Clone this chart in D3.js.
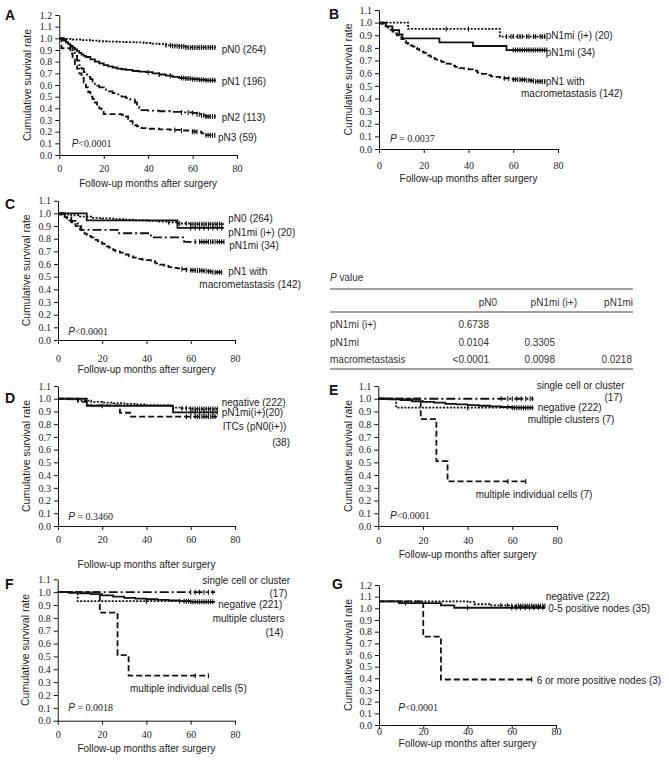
<!DOCTYPE html>
<html><head><meta charset="utf-8">
<script src="https://cdn.jsdelivr.net/npm/d3@7"></script>
<style>body{margin:0;background:#fff} svg{display:block}</style>
</head><body>
<svg id="c" width="669" height="763"></svg>
<script>
// ---------------- DATA ----------------
const xTicks = [0, 20, 40, 60, 80];
const yTicks12 = [0, 0.1, 0.2, 0.3, 0.4, 0.5, 0.6, 0.7, 0.8, 0.9, 1.0, 1.1, 1.2];
const yTicks11 = [0, 0.1, 0.2, 0.3, 0.4, 0.5, 0.6, 0.7, 0.8, 0.9, 1.0, 1.1];

// Panel A
const A_names = ["pN0 (264)", "pN1 (196)", "pN2 (113)", "pN3 (59)"];
const A_pN0 = [[0,1],[3,0.995],[6,0.99],[10,0.985],[14,0.98],[18,0.975],[22,0.972],[26,0.97],[30,0.968],[34,0.965],[38,0.96],[42,0.955],[45,0.95],[48,0.94],[51,0.935],[54,0.93],[57,0.922],[70.5,0.922]];
const A_pN1 = [[0,1],[1,0.99],[2,0.98],[3,0.965],[4,0.95],[5,0.935],[6,0.92],[7,0.905],[8,0.89],[9,0.875],[10,0.86],[11,0.85],[12,0.84],[14,0.82],[16,0.80],[18,0.785],[20,0.77],[22,0.76],[24,0.75],[26,0.74],[28,0.735],[30,0.73],[33,0.72],[36,0.715],[39,0.71],[42,0.70],[45,0.69],[48,0.68],[51,0.67],[54,0.66],[57,0.655],[60,0.65],[63,0.645],[66,0.64],[70.5,0.64]];
const A_pN2 = [[0,1],[2,0.99],[3,0.98],[4,0.96],[5,0.93],[6,0.89],[7,0.85],[8,0.81],[9,0.77],[10,0.74],[11,0.71],[12,0.69],[13,0.67],[14,0.65],[15,0.63],[16,0.61],[17,0.595],[18,0.58],[20,0.56],[22,0.545],[24,0.53],[26,0.52],[28,0.50],[30,0.49],[32,0.475],[34,0.45],[35,0.42],[36,0.40],[37,0.385],[40,0.38],[45,0.375],[50,0.37],[55,0.365],[60,0.36],[62,0.35],[64,0.34],[66,0.33],[70.5,0.33]];
const A_pN3 = [[0,1],[1,0.915],[5,0.87],[6,0.82],[7,0.78],[8,0.74],[9,0.70],[10,0.66],[11,0.62],[12,0.58],[13,0.54],[14,0.50],[15,0.48],[16,0.45],[17,0.42],[18,0.40],[19,0.37],[20,0.35],[24,0.35],[28,0.345],[30,0.33],[31,0.31],[32,0.29],[33,0.27],[34,0.255],[35,0.245],[36,0.235],[37,0.23],[40,0.225],[45,0.22],[50,0.215],[55,0.21],[60,0.20],[64,0.185],[66,0.17],[70,0.17]];
const A_pN0_cens = [48,50,51,52,53,54,55,56,57,58,59,60,61,62,63,64,65,66,67,68,69,70];
const A_pN1_cens = [40,45,50,55,56,57,58,59,60,61,62,63,64,65,66,67,68,69,70];
const A_pN2_cens = [55,58,60,62,63,64,65,66,67,68,69,70];
const A_pN3_cens = [52,55,60,61,62,66,67,68,69,70];
const A_p = "<0.0001";

// Panel B
const B_names = ["pN1mi (i+) (20)", "pN1mi (34)", "pN1 with", "macrometastasis (142)"];
const B_pN1mii = [[0,1],[13,0.95],[54,0.89],[74.5,0.89]];
const B_pN1mi = [[0,1],[3,0.97],[6,0.94],[9,0.906],[10.5,0.876],[27,0.844],[42,0.815],[57,0.783],[75,0.783]];
const B_macro = [[0,1],[1,0.99],[2,0.98],[3,0.97],[4,0.96],[5,0.945],[6,0.93],[7,0.915],[8,0.90],[9,0.885],[10,0.87],[11,0.855],[12,0.84],[13,0.83],[14,0.82],[15,0.81],[16,0.80],[17,0.79],[18,0.78],[19,0.77],[20,0.76],[21,0.75],[22,0.74],[23,0.73],[24,0.72],[25,0.71],[26,0.70],[28,0.69],[30,0.675],[32,0.66],[34,0.65],[36,0.64],[38,0.635],[40,0.63],[42,0.62],[44,0.605],[46,0.595],[48,0.585],[50,0.575],[52,0.57],[54,0.565],[56,0.56],[58,0.555],[60,0.55],[63,0.548],[66,0.545],[68,0.54],[70,0.535],[74.5,0.535]];
const B_pN1mii_cens = [30,40,57,59,60,62,63,64,66,67,69,70,72,73,74];
const B_pN1mi_cens = [60,61,62,63,64,65,66,67,68,69,70,71,72,73,74,75];
const B_macro_cens = [56,58,60,61,62,63,64,65,66,67,68,69,70,71,72,73,74];
const B_p = "0.0037";

// Panel C
const C_names = ["pN0 (264)", "pN1mi (i+) (20)", "pN1mi (34)", "pN1 with", "macrometastasis (142)"];
const C_pN0 = [[0,1],[3,0.99],[6,0.985],[10,0.975],[15,0.965],[20,0.96],[25,0.955],[30,0.95],[35,0.945],[40,0.94],[45,0.935],[50,0.93],[54,0.92],[60,0.915],[75,0.915]];
const C_pN1mii = [[0,1],[13,0.945],[54,0.885],[75,0.885]];
const C_pN1mi = [[0,1],[3,0.97],[6,0.94],[9,0.90],[10.5,0.87],[27,0.843],[42,0.81],[57,0.775],[75,0.775]];
const C_macro = B_macro;
const C_pN0_cens = [50,55,58,60,61,62,63,64,65,66,67,68,69,70,71,72,73,74];
const C_pN1mii_cens = [60,62,64,66,68,70,72,74];
const C_pN1mi_cens = [62,64,65,66,67,68,69,70,71,72,73,74,75];
const C_macro_cens = B_macro_cens;
const C_p = "<0.0001";

// Table
const tableTitle = "value";
const tableCols = ["pN0", "pN1mi (i+)", "pN1mi"];
const tableRows = ["pN1mi (i+)", "pN1mi", "macrometastasis"];
const tableVals = [["0.6738", "", ""], ["0.0104", "0.3305", ""], ["<0.0001", "0.0098", "0.0218"]];

// Panel D
const D_names = ["negative (222)", "pN1mi(i+)(20)", "ITCs (pN0(i+))", "(38)"];
const D_neg = [[0,1],[5,0.995],[10,0.985],[15,0.975],[20,0.97],[25,0.965],[30,0.96],[35,0.955],[40,0.95],[45,0.948],[50,0.945],[52,0.93],[56,0.925],[60,0.92],[72,0.92]];
const D_pN1mii = [[0,1],[13,0.945],[52,0.893],[72,0.893]];
const D_itc = [[0,1],[9,0.975],[13,0.947],[28,0.89],[33,0.86],[72,0.86]];
const D_neg_cens = [56,58,60,61,62,63,64,65,66,67,68,69,70,71,72];
const D_pN1mii_cens = [20,60,62,64,66,68,70,72];
const D_itc_cens = [58,60,62,63,64,65,66,67,68,69,70,71];
const D_p = "0.3460";

// Panel E
const E_names = ["single cell or cluster", "(17)", "negative (222)", "multiple clusters (7)", "multiple individual cells (7)"];
const E_single = [[0,1],[69.5,1]];
const E_neg = [[0,1],[5,0.995],[10,0.99],[15,0.98],[20,0.975],[25,0.97],[30,0.96],[35,0.955],[40,0.95],[45,0.945],[50,0.94],[55,0.935],[60,0.93],[69.5,0.93]];
const E_clus = [[0,1],[8,0.93],[60,0.93]];
const E_cells = [[0,1],[19,0.84],[26,0.51],[31,0.35],[66,0.35]];
const E_single_cens = [55,58,60,62,64,66,68,69];
const E_neg_cens = [58,60,61,62,63,64,65,66,67,68,69];
const E_clus_cens = [40];
const E_cells_cens = [58,66];
const E_p = "<0.0001";

// Panel F
const F_names = ["single cell or cluster", "(17)", "negative (221)", "multiple clusters", "(14)", "multiple individual cells (5)"];
const F_single = [[0,1],[71,1]];
const F_neg = [[0,1],[5,0.995],[10,0.99],[15,0.985],[20,0.975],[25,0.965],[30,0.955],[35,0.95],[40,0.945],[45,0.94],[50,0.935],[55,0.93],[60,0.925],[71,0.925]];
const F_clus = [[0,1],[9,0.93],[60,0.93]];
const F_cells = [[0,1],[19,0.84],[27,0.51],[32,0.35],[68,0.35]];
const F_single_cens = [60,62,64,66,68,70];
const F_neg_cens = [55,57,58,59,60,61,62,63,64,65,66,67,68,69,70];
const F_clus_cens = [40];
const F_cells_cens = [62,68];
const F_p = "0.0018";

// Panel G
const G_names = ["negative (222)", "0-5 positive nodes (35)", "6 or more positive nodes (3)"];
const G_neg = [[0,1.06],[40,1.055],[43,1.035],[50,1.025],[60,1.02],[75,1.02]];
const G_pos05 = [[0,1.06],[9,1.045],[28,1.025],[34,1.005],[75,1.005]];
const G_pos6 = [[0,1.06],[20,0.757],[28,0.39],[69,0.39]];
const G_neg_cens = [55,58,60,62,63,64,65,66,67,68,69,70,71,72,73,74,75];
const G_pos05_cens = [12,40,60,62,64,66,68,70,72,74];
const G_pos6_cens = [69];
const G_p = "<0.0001";

// ---------------- DRAWING ----------------
const svg = d3.select("#c");
const SANS = "'Liberation Sans', Arial, sans-serif";
const SERIF = "'Liberation Serif', 'Times New Roman', serif";
const DASH = { solid: null, dotted: "2,1.5", dashdot: "9,3,2,3", dashed: "6,3" };

function stepVal(series, t) {
  let v = series[0][1];
  for (const p of series) { if (p[0] <= t) v = p[1]; }
  return v;
}

function panel(cfg) {
  const x = d3.scaleLinear().domain([0, 80]).range([cfg.x0, cfg.x1]);
  const y = d3.scaleLinear().domain([0, cfg.ymax]).range([cfg.y0, cfg.yTop]);
  const g = svg.append("g");

  const ya = g.append("g").attr("transform", `translate(${cfg.x0},0)`)
    .call(d3.axisLeft(y).tickValues(cfg.yTicks).tickFormat(d3.format(".1f")).tickSize(4).tickSizeOuter(0).tickPadding(3));
  const xa = g.append("g").attr("transform", `translate(0,${cfg.y0})`)
    .call(d3.axisBottom(x).tickValues(xTicks).tickFormat(d3.format("d")).tickSize(4).tickSizeOuter(0));
  [ya, xa].forEach(a => {
    a.attr("font-family", SERIF).attr("font-size", 10);
    a.selectAll("path,line").attr("stroke", "#111").attr("stroke-width", 1);
    a.selectAll("text").attr("fill", "#222");
  });
  xa.selectAll("text").attr("dy", null).attr("y", cfg.xtb - cfg.y0);

  // axis titles
  g.append("text").attr("x", (cfg.x0 + cfg.x1) / 2).attr("y", cfg.titleY)
    .attr("text-anchor", "middle").attr("font-family", SANS).attr("font-size", 10).attr("fill", "#222")
    .text("Follow-up months after surgery");
  g.append("text").attr("transform", `translate(${cfg.ytX},${(cfg.y0 + cfg.yTop) / 2}) rotate(-90)`)
    .attr("text-anchor", "middle").attr("dy", "0.35em").attr("font-family", SANS).attr("font-size", 10.5).attr("fill", "#222")
    .text("Cumulative survival rate");

  // panel letter
  g.append("text").attr("x", cfg.letterX).attr("y", cfg.letterY).attr("font-family", SANS)
    .attr("font-weight", "bold").attr("font-size", 14).attr("fill", "#111").text(cfg.letter);

  // curves
  const line = d3.line().x(d => x(d[0])).y(d => y(d[1])).curve(d3.curveStepAfter);
  cfg.series.forEach(s => {
    g.append("path").attr("d", line(s.data)).attr("fill", "none").attr("stroke", "#111")
      .attr("stroke-width", 1.8).attr("stroke-dasharray", DASH[s.style]);
    g.selectAll(null).data(s.cens).enter().append("line")
      .attr("x1", t => x(t)).attr("x2", t => x(t))
      .attr("y1", t => y(stepVal(s.data, t)) - 2.5).attr("y2", t => y(stepVal(s.data, t)) + 2.5)
      .attr("stroke", "#111").attr("stroke-width", 1.1);
  });

  // labels
  cfg.labels.forEach(l => {
    g.append("text").attr("x", l.x).attr("y", l.y).attr("text-anchor", l.anchor || "start")
      .attr("font-family", SANS).attr("font-size", 10).attr("fill", "#222").text(l.t);
  });

  // p value
  const pt = g.append("text").attr("x", cfg.pX).attr("y", cfg.pY).attr("font-size", 10).attr("fill", "#222");
  pt.append("tspan").attr("font-family", SANS).attr("font-style", "italic").text("P");
  pt.append("tspan").attr("font-family", SERIF).text(cfg.pSep + cfg.p);
}

panel({ letter: "A", letterX: 5, letterY: 20, x0: 59.3, x1: 237, y0: 155, yTop: 15, ymax: 1.2, yTicks: yTicks12,
  xtb: 171.5, titleY: 187, ytX: 27,
  series: [
    { data: A_pN0, cens: A_pN0_cens, style: "dotted" },
    { data: A_pN1, cens: A_pN1_cens, style: "solid" },
    { data: A_pN2, cens: A_pN2_cens, style: "dashdot" },
    { data: A_pN3, cens: A_pN3_cens, style: "dashed" }],
  labels: [
    { t: A_names[0], x: 221.7, y: 53 }, { t: A_names[1], x: 221.7, y: 85 },
    { t: A_names[2], x: 221.7, y: 120.5 }, { t: A_names[3], x: 218, y: 140.5 }],
  pX: 71.7, pY: 147, pSep: "", p: A_p });

panel({ letter: "B", letterX: 329, letterY: 19, x0: 379, x1: 558, y0: 149, yTop: 10, ymax: 1.1, yTicks: yTicks11,
  xtb: 168.5, titleY: 182, ytX: 348.3,
  series: [
    { data: B_pN1mii, cens: B_pN1mii_cens, style: "dotted" },
    { data: B_pN1mi, cens: B_pN1mi_cens, style: "solid" },
    { data: B_macro, cens: B_macro_cens, style: "dashed" }],
  labels: [
    { t: B_names[0], x: 545.7, y: 39 }, { t: B_names[1], x: 545.7, y: 55.5 },
    { t: B_names[2], x: 545.7, y: 84.5 }, { t: B_names[3], x: 521, y: 96.5 }],
  pX: 390, pY: 141.5, pSep: " = ", p: B_p });

panel({ letter: "C", letterX: 5, letterY: 209, x0: 58, x1: 235, y0: 340, yTop: 200.7, ymax: 1.1, yTicks: yTicks11,
  xtb: 361.5, titleY: 373, ytX: 26.7,
  series: [
    { data: C_pN0, cens: C_pN0_cens, style: "dotted" },
    { data: C_pN1mii, cens: C_pN1mii_cens, style: "solid" },
    { data: C_pN1mi, cens: C_pN1mi_cens, style: "dashdot" },
    { data: C_macro, cens: C_macro_cens, style: "dashed" }],
  labels: [
    { t: C_names[0], x: 228.3, y: 222 }, { t: C_names[1], x: 228.3, y: 235.5 },
    { t: C_names[2], x: 229.3, y: 249 }, { t: C_names[3], x: 228.3, y: 275 },
    { t: C_names[4], x: 199.3, y: 288 }],
  pX: 68.3, pY: 334.5, pSep: "", p: C_p });

panel({ letter: "D", letterX: 5, letterY: 402.5, x0: 58, x1: 235, y0: 526, yTop: 386, ymax: 1.1, yTicks: yTicks11,
  xtb: 542.5, titleY: 568, ytX: 26.7,
  series: [
    { data: D_neg, cens: D_neg_cens, style: "dotted" },
    { data: D_pN1mii, cens: D_pN1mii_cens, style: "solid" },
    { data: D_itc, cens: D_itc_cens, style: "dashed" }],
  labels: [
    { t: D_names[0], x: 221.7, y: 405.5 }, { t: D_names[1], x: 221.7, y: 416 },
    { t: D_names[2], x: 222.7, y: 429.5 }, { t: D_names[3], x: 290, y: 445.5, anchor: "end" }],
  pX: 68.3, pY: 519.5, pSep: " = ", p: D_p });

panel({ letter: "E", letterX: 329, letterY: 395, x0: 378.3, x1: 557, y0: 526, yTop: 386, ymax: 1.1, yTicks: yTicks11,
  xtb: 543.5, titleY: 558, ytX: 348.3,
  series: [
    { data: E_single, cens: E_single_cens, style: "dashdot" },
    { data: E_neg, cens: E_neg_cens, style: "solid" },
    { data: E_clus, cens: E_clus_cens, style: "dotted" },
    { data: E_cells, cens: E_cells_cens, style: "dashed" }],
  labels: [
    { t: E_names[0], x: 536.7, y: 389 }, { t: E_names[1], x: 622.3, y: 401, anchor: "end" },
    { t: E_names[2], x: 537.7, y: 411 }, { t: E_names[3], x: 527.7, y: 423 },
    { t: E_names[4], x: 475.7, y: 498 }],
  pX: 390, pY: 519, pSep: "", p: E_p });

panel({ letter: "F", letterX: 5, letterY: 589, x0: 57.7, x1: 235, y0: 720.7, yTop: 579.3, ymax: 1.1, yTicks: yTicks11,
  xtb: 738.5, titleY: 752, ytX: 25,
  series: [
    { data: F_single, cens: F_single_cens, style: "dashdot" },
    { data: F_neg, cens: F_neg_cens, style: "solid" },
    { data: F_clus, cens: F_clus_cens, style: "dotted" },
    { data: F_cells, cens: F_cells_cens, style: "dashed" }],
  labels: [
    { t: F_names[0], x: 202.3, y: 584 }, { t: F_names[1], x: 287.3, y: 597, anchor: "end" },
    { t: F_names[2], x: 218.3, y: 608 }, { t: F_names[3], x: 212.7, y: 622 },
    { t: F_names[4], x: 283.3, y: 635.5, anchor: "end" }, { t: F_names[5], x: 130, y: 692 }],
  pX: 68.3, pY: 711, pSep: " = ", p: F_p });

panel({ letter: "G", letterX: 332, letterY: 589, x0: 379, x1: 556, y0: 725, yTop: 585, ymax: 1.2, yTicks: yTicks12,
  xtb: 734.5, titleY: 747, ytX: 348.3,
  series: [
    { data: G_neg, cens: G_neg_cens, style: "dotted" },
    { data: G_pos05, cens: G_pos05_cens, style: "solid" },
    { data: G_pos6, cens: G_pos6_cens, style: "dashed" }],
  labels: [
    { t: G_names[0], x: 545.7, y: 600 }, { t: G_names[1], x: 548.3, y: 611.5 },
    { t: G_names[2], x: 536.7, y: 684 }],
  pX: 398.3, pY: 710.5, pSep: "", p: G_p });

// ---------------- TABLE ----------------
(function () {
  const tg = svg.append("g").attr("font-family", SANS).attr("font-size", 10).attr("fill", "#333");
  const tt = tg.append("text").attr("x", 330).attr("y", 280.5);
  tt.append("tspan").attr("font-style", "italic").text("P");
  tt.append("tspan").text(" " + tableTitle);
  [289, 312, 369].forEach(yy => tg.append("line").attr("x1", 330).attr("x2", 633).attr("y1", yy).attr("y2", yy)
    .attr("stroke", "#444").attr("stroke-width", 1.2));
  const headEnd = [497, 577, 633];
  const valEnd = [489, 555, 632];
  const rowY = [327.5, 345.5, 362.5];
  tableCols.forEach((c, i) => tg.append("text").attr("x", headEnd[i]).attr("y", 305.5).attr("text-anchor", "end").text(c));
  tableRows.forEach((r, j) => {
    tg.append("text").attr("x", 330).attr("y", rowY[j]).text(r);
    tableVals[j].forEach((v, i) => {
      if (v) tg.append("text").attr("x", valEnd[i]).attr("y", rowY[j]).attr("text-anchor", "end").text(v);
    });
  });
})();
</script>
</body></html>
